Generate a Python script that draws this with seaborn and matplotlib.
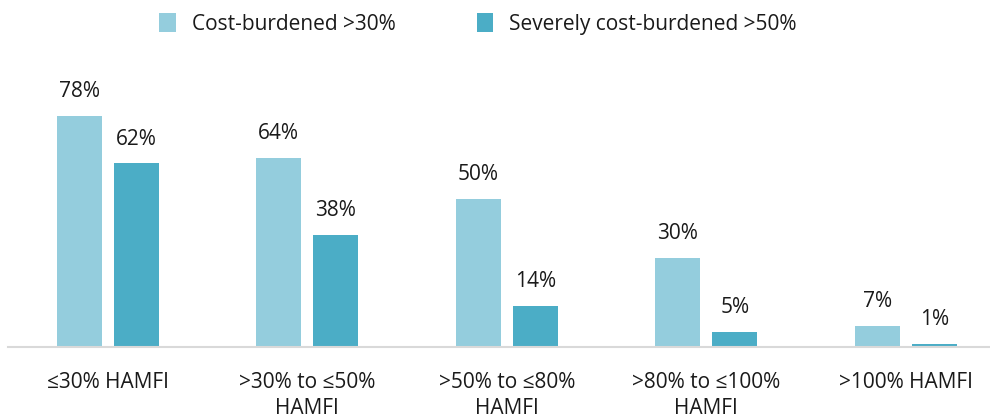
import matplotlib
matplotlib.use("Agg")
import matplotlib.pyplot as plt
import seaborn as sns
import pandas as pd

categories = ["≤30% HAMFI", ">30% to ≤50%\nHAMFI", ">50% to ≤80%\nHAMFI",
              ">80% to ≤100%\nHAMFI", ">100% HAMFI"]
series_names = ["Cost-burdened >30%", "Severely cost-burdened >50%"]
cost_burdened = [78, 64, 50, 30, 7]
severely_burdened = [62, 38, 14, 5, 1]

colors = ["#94CDDD", "#4BADC6"]

df = pd.DataFrame({
    "category": categories * 2,
    "value": cost_burdened + severely_burdened,
    "series": [series_names[0]] * len(categories) + [series_names[1]] * len(categories),
})

sns.set_style("white")
plt.rcParams["font.family"] = ["Open Sans", "DejaVu Sans"]
plt.rcParams["font.size"] = 15

fig = plt.figure(figsize=(9.9, 4.18), dpi=100)
ax = fig.add_axes([8 / 990, 71 / 418, 982 / 990, 287 / 418])

sns.barplot(data=df, x="category", y="value", hue="series", palette=colors,
            saturation=1, width=0.572, gap=0.21, linewidth=0, ax=ax,
            order=categories, hue_order=series_names)

for c in ax.containers:
    ax.bar_label(c, fmt="{:.0f}%", padding=10, fontsize=15, color="#1a1a1a")

ax.set_xlim(-0.5, -0.5 + 982 / 199.5)
ax.set_ylim(0, 287 / 2.96)
ax.set_xlabel("")
ax.set_ylabel("")
ax.set_yticks([])
ax.tick_params(axis="x", length=0, pad=18, labelsize=15, colors="#1a1a1a")
for lbl in ax.get_xticklabels():
    lbl.set_linespacing(1.3)
for s in ["left", "top", "right"]:
    ax.spines[s].set_visible(False)
ax.spines["bottom"].set_color("#D9D9D9")
ax.spines["bottom"].set_linewidth(1.5)

handles, labels = ax.get_legend_handles_labels()
ax.get_legend().remove()
fig.legend(handles, labels, loc="center", bbox_to_anchor=(478 / 990, 1 - 24 / 418),
           ncol=2, frameon=False, fontsize=15, handlelength=0.8, handleheight=1.0,
           handletextpad=0.75, columnspacing=3.9, labelcolor="#1a1a1a")

fig.savefig("out.png", dpi=100)
